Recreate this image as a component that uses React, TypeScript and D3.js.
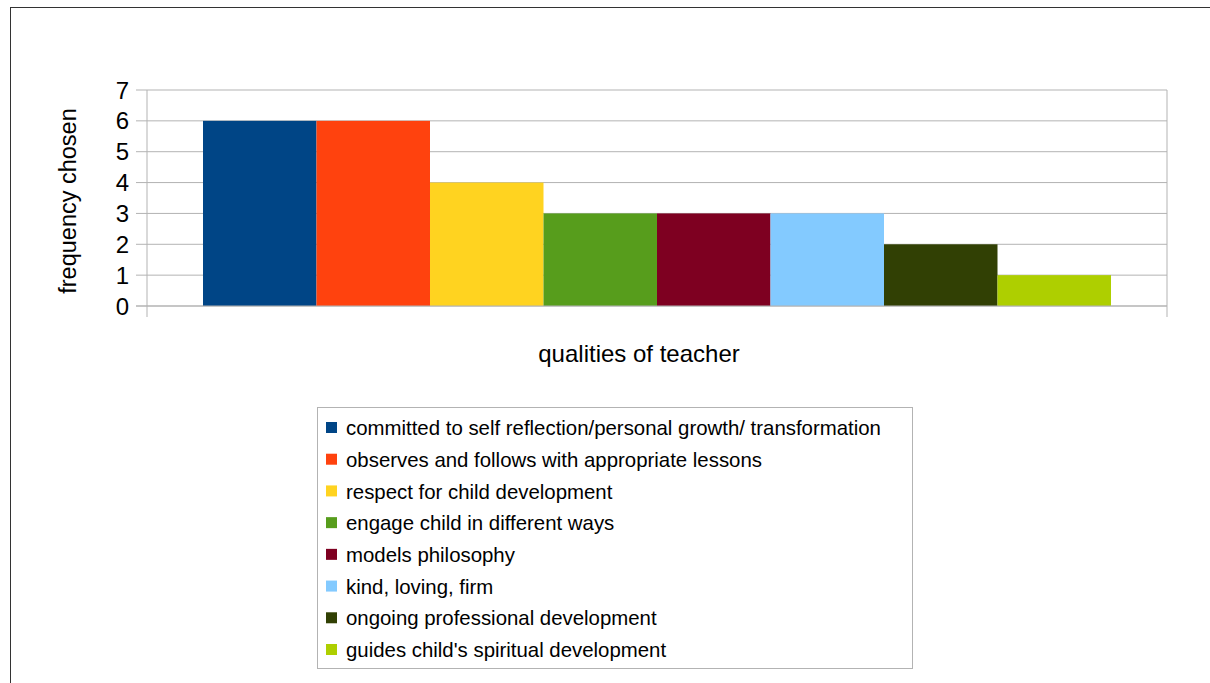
import React from "react";
import * as d3 from "d3";

const categories = [
  "committed to self reflection/personal growth/ transformation",
  "observes and follows with appropriate lessons",
  "respect for child development",
  "engage child in different ways",
  "models philosophy",
  "kind, loving, firm",
  "ongoing professional development",
  "guides child's spiritual development",
];
const values = [6, 6, 4, 3, 3, 3, 2, 1];
const colors = ["#004586", "#ff420e", "#ffd320", "#579d1c", "#7e0021", "#83caff", "#314004", "#aecf00"];
const yTicks = [0, 1, 2, 3, 4, 5, 6, 7];

export default function App() {
  const W = 1210, H = 683;
  const left = 147, right = 1167, top = 90, bottom = 306;
  const y = d3.scaleLinear().domain([0, 7]).range([bottom, top]);
  const groupStart = 203, groupEnd = 1111;
  const x = d3.scaleBand<number>().domain(d3.range(values.length)).range([groupStart, groupEnd]).padding(0);
  const font = "'Liberation Sans', Arial, sans-serif";
  const legX = 317, legY = 407, legW = 595, legH = 261;
  const rowY = d3.scaleLinear().domain([0, 7]).range([428, 650]);
  return (
    <svg width={W} height={H} style={{ position: "absolute", left: 0, top: 0 }} fontFamily={font}>
      <rect x={0} y={0} width={W} height={H} fill="#fff" />
      <rect x={10.5} y={7.5} width={W + 20} height={H + 20} fill="#fff" stroke="#333" strokeWidth={1} />
      {yTicks.map((t) => (
        <g key={t}>
          <line x1={136} x2={right} y1={y(t)} y2={y(t)} stroke="#b3b3b3" strokeWidth={1} />
          <text x={129} y={y(t)} dy="0.36em" textAnchor="end" fontSize={24} fill="#000">{t}</text>
        </g>
      ))}
      <line x1={left} x2={left} y1={top} y2={317} stroke="#b3b3b3" />
      <line x1={right} x2={right} y1={top} y2={317} stroke="#b3b3b3" />
      {values.map((v, i) => (
        <rect key={i} x={x(i)} y={y(v)} width={x.bandwidth()} height={bottom - y(v)} fill={colors[i]} />
      ))}
      <line x1={136} x2={right} y1={bottom} y2={bottom} stroke="#b3b3b3" />
      <text transform={`translate(76,${(top + bottom) / 2 + 3}) rotate(-90)`} textAnchor="middle" fontSize={23.5} fill="#000">frequency chosen</text>
      <text x={639} y={362} textAnchor="middle" fontSize={24} fill="#000">qualities of teacher</text>
      <rect x={legX + 0.5} y={legY + 0.5} width={legW} height={legH} fill="#fff" stroke="#b3b3b3" />
      {categories.map((c, i) => (
        <g key={i}>
          <rect x={326} y={rowY(i) - 6} width={11} height={11} fill={colors[i]} />
          <text x={346} y={rowY(i)} dy="0.35em" fontSize={20.4} fill="#000">{c}</text>
        </g>
      ))}
    </svg>
  );
}
